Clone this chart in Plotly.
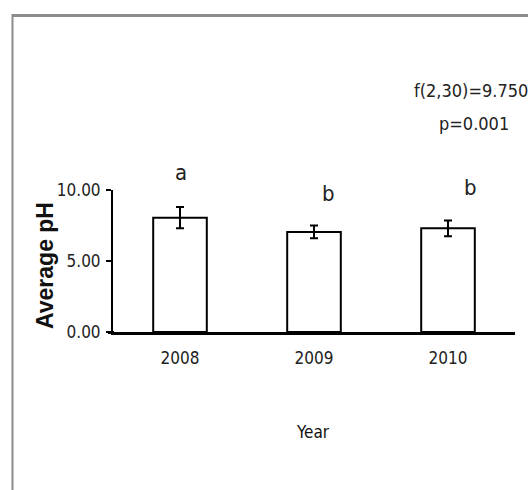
import plotly.graph_objects as go

# ---- data ----
years = ["2008", "2009", "2010"]
mean_ph = [8.05, 7.05, 7.30]
err_ph = [0.75, 0.45, 0.55]
group_letters = ["a", "b", "b"]
y_tickvals = [0, 5, 10]
y_ticktext = ["0.00", "5.00", "10.00"]
stat_f = "f(2,30)=9.750"
stat_p = "p=0.001"

W, H = 528, 490
L, R, T, B = 113, 13, 190, 158
PW, PH = W - L - R, H - T - B

def px_x(px):
    return (px - L) / PW

def px_y(py):
    return (H - B - py) / PH

FONT = "DejaVu Sans Condensed, Liberation Sans, sans-serif"
TXT = "#222222"

fig = go.Figure()
fig.add_trace(go.Bar(
    x=years, y=mean_ph,
    marker=dict(color="white", line=dict(color="black", width=2)),
    error_y=dict(type="data", array=err_ph, color="black", thickness=2, width=4),
    showlegend=False,
))

letter_dx = [1, 14, 22]
letter_y = [172, 193, 187]
anns = []
for i, (lt, dx, ly) in enumerate(zip(group_letters, letter_dx, letter_y)):
    anns.append(dict(x=px_x(L + PW / 3 * (i + 0.5) + dx), y=px_y(ly), xref="paper", yref="paper",
                     xanchor="center", yanchor="middle",
                     text=lt, showarrow=False, font=dict(family=FONT, size=22, color=TXT)))
anns.append(dict(x=px_x(471), y=px_y(90), xref="paper", yref="paper", text=stat_f,
                 xanchor="center", yanchor="middle",
                 showarrow=False, font=dict(family=FONT, size=18, color=TXT)))
anns.append(dict(x=px_x(474), y=px_y(123), xref="paper", yref="paper", text=stat_p,
                 xanchor="center", yanchor="middle",
                 showarrow=False, font=dict(family=FONT, size=18, color=TXT)))
anns.append(dict(x=px_x(313), y=px_y(432), xref="paper", yref="paper", text="Year",
                 xanchor="center", yanchor="middle",
                 showarrow=False, font=dict(family=FONT, size=17, color="#111111")))
anns.append(dict(x=px_x(45), y=px_y(266), xref="paper", yref="paper", text="<b>Average pH</b>",
                 xanchor="center", yanchor="middle",
                 textangle=-90, showarrow=False,
                 font=dict(family="Liberation Sans, Arial, sans-serif", size=23, color="#111111")))

shapes = [
    dict(type="line", xref="paper", yref="paper", x0=px_x(12), x1=px_x(W + 5), y0=px_y(15.5), y1=px_y(15.5),
         line=dict(color="#8c8c8c", width=3)),
    dict(type="line", xref="paper", yref="paper", x0=px_x(12.5), x1=px_x(12.5), y0=px_y(14), y1=px_y(H + 5),
         line=dict(color="#8c8c8c", width=2)),
    dict(type="line", xref="paper", yref="paper", x0=px_x(108), x1=px_x(114), y0=px_y(332.5), y1=px_y(332.5),
         line=dict(color="black", width=3)),
]

fig.update_layout(
    width=W, height=H,
    margin=dict(l=L, r=R, t=T, b=B, autoexpand=False),
    paper_bgcolor="white", plot_bgcolor="white",
    bargap=0.6,
    annotations=anns, shapes=shapes,
    xaxis=dict(showline=True, linecolor="black", linewidth=3, ticks="", showgrid=False,
               tickfont=dict(family=FONT, size=17, color=TXT), ticklabelstandoff=9,
               range=[-0.5, 2.5], fixedrange=True),
    yaxis=dict(range=[0, 10], showline=True, linecolor="black", linewidth=2, ticks="outside",
               ticklen=5, tickwidth=2, tickcolor="black", showgrid=False, zeroline=False,
               tickvals=y_tickvals, ticktext=y_ticktext,
               tickfont=dict(family=FONT, size=17, color=TXT), ticklabelstandoff=2,
               fixedrange=True),
)

fig.write_html("out.html")
